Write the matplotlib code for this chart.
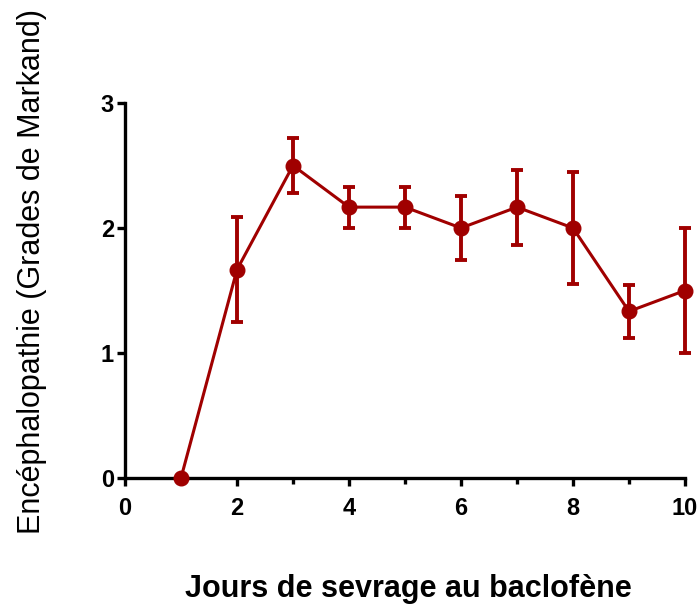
import matplotlib
matplotlib.use("Agg")
import matplotlib.pyplot as plt
from matplotlib.ticker import MultipleLocator

days = [1, 2, 3, 4, 5, 6, 7, 8, 9, 10]
grade = [0.0, 1.667, 2.5, 2.167, 2.167, 2.0, 2.167, 2.0, 1.333, 1.5]
err_up = [0.0, 0.42, 0.22, 0.165, 0.165, 0.255, 0.3, 0.445, 0.21, 0.5]
err_down = [0.0, 0.42, 0.22, 0.165, 0.165, 0.255, 0.3, 0.445, 0.21, 0.5]

color = "#A00000"
plt.rcParams['font.family'] = ['Liberation Sans', 'DejaVu Sans']

fig = plt.figure(figsize=(7.0, 6.06), dpi=100)
ax = fig.add_axes([125/700, 1-478/606, (685-125)/700, (478-103)/606])

ax.errorbar(days, grade, yerr=[err_down, err_up], color=color, lw=2.2,
            marker='o', markersize=10.5, elinewidth=2.8, capsize=4.2, capthick=2.8,
            clip_on=False, zorder=3)

ax.set_xlim(0, 10)
ax.set_ylim(0, 3)
ax.xaxis.set_major_locator(MultipleLocator(2))
ax.xaxis.set_minor_locator(MultipleLocator(1))
ax.yaxis.set_major_locator(MultipleLocator(1))

for s in ['top', 'right']:
    ax.spines[s].set_visible(False)
for s in ['left', 'bottom']:
    ax.spines[s].set_linewidth(2.4)

ax.tick_params(axis='both', which='major', length=6, width=2.4, labelsize=17)
ax.tick_params(axis='x', which='major', pad=8)
ax.tick_params(axis='y', which='major', pad=2)
ax.tick_params(axis='x', which='minor', length=4, width=2.4)
for lbl in ax.get_xticklabels() + ax.get_yticklabels():
    lbl.set_fontweight('bold')

fig.text(408.5/700, 1-597/606, "Jours de sevrage au baclofène", fontsize=22,
         fontweight='bold', ha='center', va='baseline')
fig.text(40/700, 1-272/606, "Encéphalopathie (Grades de Markand)", fontsize=22,
         rotation=90, rotation_mode='anchor', ha='center', va='baseline')

fig.savefig("out.png", dpi=100)
